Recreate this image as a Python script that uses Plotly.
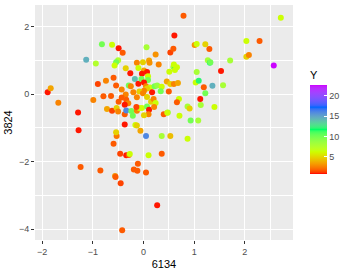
import plotly.graph_objects as go

# ---- data ----
x_6134 = [-1.89, -1.83, -1.68, -1.13, -0.94, -0.90, -0.99, -1.29, -1.28, -0.82,
          -0.62, -0.49, -0.41, -0.50, -0.54, -0.57, -0.74, -0.59, -0.54, -0.43,
          -0.35, -0.26, -0.17, -0.29, -0.25, -0.10, -0.13, -0.10, 0.06, -0.01,
          0.11, 0.12, 0.24, 0.30, 0.01, -0.03, 0.07, 0.09, -0.04, 0.09,
          0.01, 0.05, 0.13, 0.17, 0.07, 0.22, 0.27, 0.01, -0.08, -0.01,
          0.07, -0.13, -0.20, -0.35, -0.43, -0.34, -0.30, -0.37, -0.49, -0.72,
          -0.62, -0.53, -0.50, -0.37, -0.34, -0.24, -0.21, -0.13, -0.08, -0.03,
          0.07, 0.11, 0.10, 0.01, -0.14, 0.15, 0.20, 0.24, 0.21, 0.36,
          0.34, 0.46, 0.50, 0.53, 0.60, 0.51, 0.59, 0.62, 0.53, 0.59,
          0.61, 0.40, 0.48, -0.53, -0.54, -0.37, -0.16, -0.13, -0.06, 0.05,
          0.36, 0.53, -0.59, -0.46, -0.34, -0.29, -0.27, 0.10, 0.36, -1.24,
          -0.85, -0.56, -0.55, -0.11, -0.19, -0.12, 0.05, -0.45, 0.27, -0.42,
          0.79, 2.71, 1.01, 1.05, 1.22, 1.30, 2.03, 2.29, 1.27, 1.31,
          1.32, 1.71, 2.03, 2.08, 2.57, 1.53, 0.60, 0.66, 0.62, 0.68,
          1.05, 1.03, 1.09, 1.19, 1.36, 1.57, 1.22, 1.12, 0.70, 0.66,
          0.87, 0.91, 1.13, 1.40, 0.47, 0.71, 0.93, 1.08, 0.87, -0.79,
          -0.64]
y_3824 = [0.06, 0.18, -0.25, 1.02, 0.91, 0.30, -0.17, -0.54, -1.07, 1.48,
          1.47, 1.36, 1.23, 1.01, 0.95, 0.85, 0.40, 0.49, 0.26, 0.14,
          0.77, 0.62, 0.45, 0.26, 0.24, 0.31, 0.93, 0.78, 1.39, 0.95,
          1.00, 0.93, 1.18, 0.88, 0.70, 0.61, 0.66, 0.53, 0.45, 0.42,
          0.35, 0.24, 0.20, 0.06, 0.17, 0.24, 0.26, 0.10, 0.08, 0.03,
          -0.08, -0.09, 0.06, -0.01, -0.10, -0.16, -0.27, -0.31, -0.22, -0.44,
          -0.49, -0.41, -0.51, -0.59, -0.48, -0.50, -0.64, -0.49, -0.41, -0.41,
          -0.36, -0.46, -0.59, -0.62, -0.38, -0.22, -0.14, -0.26, -0.38, 0.22,
          0.09, 0.38, 0.08, 0.30, 0.30, 0.67, 0.81, 0.76, 1.24, 1.35,
          1.74, -0.59, -0.54, -1.24, -1.13, -0.90, -0.91, -0.93, -1.08, -1.24,
          -1.24, -1.24, -1.47, -1.76, -1.81, -1.80, -1.77, -1.81, -1.76, -2.16,
          -2.26, -2.42, -2.45, -2.06, -2.23, -2.27, -2.32, -2.64, -3.29, -4.03,
          2.33, 2.27, 1.46, 1.49, 1.48, 1.34, 1.58, 1.58, 1.01, 0.93,
          0.95, 1.00, 1.11, 1.16, 0.85, 0.69, 0.88, 0.80, 0.72, 0.33,
          0.66, 0.35, 0.40, 0.21, 0.25, 0.27, 0.03, -0.14, -0.14, -0.24,
          -0.36, -0.42, -0.32, -0.38, -0.55, -0.64, -0.78, -0.78, -1.32, -0.06,
          -0.05]
y_value = [0.9, 3.5, 2.6, 14.5, 7.5, 1.3, 2.6, 0.9, 0.9, 10,
           6.3, 0.9, 1.7, 7.5, 10, 6.3, 2.6, 1.7, 1.7, 2.6,
           4.8, 0.9, 14, 10, 2.6, 0.9, 2.6, 6.3, 8, 4.8,
           3.5, 3.0, 3.0, 2.6, 3.5, 0.9, 0.9, 6.3, 10, 10,
           0.9, 2.6, 6.3, 0.9, 4.8, 10, 8.7, 2.6, 4.8, 2.6,
           4.8, 2.6, 2.6, 2.6, 1.7, 1.7, 2.6, 0.9, 1.7, 3.5,
           1.3, 4.8, 2.6, 1.7, 16, 10, 10, 2.6, 6.3, 6.3,
           10, 0.9, 2.6, 4.8, 1.3, 4.8, 2.6, 6.3, 2.6, 6.3,
           10, 3.5, 1.7, 4.8, 2.6, 6.3, 8, 12, 1.3, 1.7,
           0.9, 1.7, 8.7, 2.3, 4.8, 0.9, 6.3, 4.8, 3.5, 16,
           8, 4.2, 1.7, 1.3, 0.9, 1.7, 6.3, 6.3, 1.7, 1.7,
           1.7, 3.0, 1.7, 1.7, 1.7, 1.7, 1.7, 1.3, 0.9, 1.7,
           1.7, 6.3, 3.0, 6.3, 4.8, 1.7, 6.3, 1.7, 8, 12,
           10, 8, 4.8, 2.6, 22.6, 0.9, 6.3, 6.3, 6.3, 3.5,
           8, 6.3, 12, 1.7, 14.5, 8, 10, 0.9, 6.3, 1.7,
           8, 4.8, 8, 6.3, 6.3, 6.3, 10, 8, 6.3, 1.7,
           1.7]
colorbar_ticks = [5, 10, 15, 20]
x_ticks = [-2, -1, 0, 1, 2]
y_ticks = [-4, -2, 0, 2]

# ---- colour scale: rainbow(5) interpolated in Lab (ggplot gradientn) ----
anchors = ['#FF0000', '#CCFF00', '#00FF66', '#0066FF', '#CC00FF']


def hex2rgb(h):
    h = h.lstrip('#')
    return [int(h[i:i + 2], 16) / 255 for i in (0, 2, 4)]


def to_lin(c):
    return c / 12.92 if c <= 0.04045 else ((c + 0.055) / 1.055) ** 2.4


def from_lin(c):
    v = 12.92 * c if c <= 0.0031308 else 1.055 * c ** (1 / 2.4) - 0.055
    return min(max(v, 0), 1)


WX, WY, WZ = 0.95047, 1.0, 1.08883


def rgb2lab(rgb):
    r, g, b = [to_lin(c) for c in rgb]
    X = 0.4124 * r + 0.3576 * g + 0.1805 * b
    Y = 0.2126 * r + 0.7152 * g + 0.0722 * b
    Z = 0.0193 * r + 0.1192 * g + 0.9505 * b

    def f(t):
        return t ** (1 / 3) if t > 216 / 24389 else (24389 / 27 * t + 16) / 116
    fx, fy, fz = f(X / WX), f(Y / WY), f(Z / WZ)
    return [116 * fy - 16, 500 * (fx - fy), 200 * (fy - fz)]


def lab2rgb(lab):
    L, a, bb = lab
    fy = (L + 16) / 116
    fx = fy + a / 500
    fz = fy - bb / 200

    def finv(t):
        return t ** 3 if t ** 3 > 216 / 24389 else (116 * t - 16) / (24389 / 27)
    X, Y, Z = WX * finv(fx), WY * finv(fy), WZ * finv(fz)
    r = 3.2406 * X - 1.5372 * Y - 0.4986 * Z
    g = -0.9689 * X + 1.8758 * Y + 0.0415 * Z
    b = 0.0557 * X - 0.2040 * Y + 1.0570 * Z
    return [from_lin(max(c, 0)) for c in (r, g, b)]


labs = [rgb2lab(hex2rgb(h)) for h in anchors]
colorscale = []
N = 60
for i in range(N + 1):
    t = i / N
    seg = min(int(t * 4), 3)
    u = t * 4 - seg
    lab = [labs[seg][k] * (1 - u) + labs[seg + 1][k] * u for k in range(3)]
    r, g, b = lab2rgb(lab)
    colorscale.append([t, 'rgb(%d,%d,%d)' % (round(r * 255), round(g * 255), round(b * 255))])

FONT = 'Liberation Sans, Arial, sans-serif'

fig = go.Figure(go.Scatter(
    x=x_6134, y=y_3824, mode='markers',
    marker=dict(
        size=6, color=y_value, colorscale=colorscale, cmin=0.75, cmax=22.66,
        line=dict(width=0),
        colorbar=dict(
            title=dict(text='Y', side='top', font=dict(size=11, color='black', family=FONT)),
            tickvals=colorbar_ticks, ticks='inside', ticklen=3, tickcolor='white', tickwidth=1,
            tickfont=dict(size=9, color='#4D4D4D', family=FONT),
            thickness=17, len=106, lenmode='pixels',
            x=1.066, xanchor='left', y=0.281, yanchor='bottom',
            xpad=0, ypad=0, outlinewidth=0,
        ),
    ),
    showlegend=False,
))

axis_common = dict(
    showgrid=True, gridcolor='white', gridwidth=1.1,
    zeroline=False, showline=False,
    ticks='outside', ticklen=3, tickcolor='#333333', tickwidth=1,
    tickfont=dict(size=9, color='#4D4D4D', family=FONT),
)

fig.update_layout(
    width=354, height=273,
    margin=dict(l=35, r=61, t=5, b=33),
    paper_bgcolor='white', plot_bgcolor='#EBEBEB',
    font=dict(family=FONT),
    xaxis=dict(**axis_common, range=[-2.14, 2.95], tickvals=x_ticks,
               minor=dict(tickvals=[-1.5, -0.5, 0.5, 1.5, 2.5], showgrid=True,
                          gridcolor='white', gridwidth=0.55, ticks=''),
               title=dict(text='6134', font=dict(size=11, color='black', family=FONT), standoff=4)),
    yaxis=dict(**axis_common, range=[-4.32, 2.645], tickvals=y_ticks,
               minor=dict(tickvals=[-3, -1, 1], showgrid=True,
                          gridcolor='white', gridwidth=0.55, ticks=''),
               title=dict(text='3824', font=dict(size=11, color='black', family=FONT), standoff=4)),
)

fig.write_html('out.html', config={'displayModeBar': False},
               post_script="document.body.style.margin='0';")
